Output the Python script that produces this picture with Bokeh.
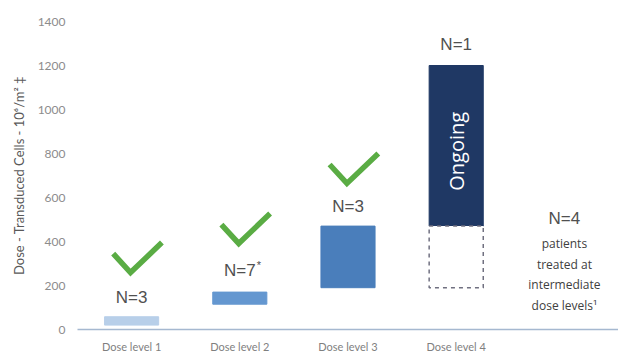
from bokeh.plotting import figure
from bokeh.models import Range1d, FixedTicker, ColumnDataSource
from bokeh.core.properties import value
from bokeh.embed import file_html
from bokeh.resources import INLINE
import math

# ---- data ----
categories = ["Dose level 1", "Dose level 2", "Dose level 3", "Dose level 4"]
bar_low = [20, 115, 190, 470]
bar_high = [58, 170, 470, 1200]
bar_colors = ["#b8cfe9", "#6497d0", "#4a7ebb", "#1f3864"]
pending_category = ["Dose level 4"]
pending_low = [190]
pending_high = [470]
n_labels = ["N=3", "N=7", "N=3", "N=1", "N=4"]
n_label_y = [145, 268, 560, 1295, 505]
check_categories = ["Dose level 1", "Dose level 2", "Dose level 3"]
check_base_y = [259, 391, 664]
ongoing_text = "Ongoing"
ongoing_y = 810
note_lines = ["patients", "treated at", "intermediate", "dose levels¹"]
note_y = [391, 295, 205, 109]
y_ticks = [0, 200, 400, 600, 800, 1000, 1200, 1400]
y_label = "Dose - Transduced Cells - 10⁶/m² ‡"

# positions (5th slot holds the N=4 note)
xpos = {c: i + 1 for i, c in enumerate(categories)}
note_x = len(categories) + 1

p = figure(width=618, height=355, x_range=Range1d(0.5, 5.5), y_range=Range1d(0, 1400),
           output_backend="svg", toolbar_location=None,
           min_border_left=77, min_border_right=0, min_border_top=21, min_border_bottom=26)
p.outline_line_color = None
p.xgrid.visible = False
p.ygrid.visible = False
p.background_fill_color = "white"
p.border_fill_color = "white"

# bars
src = ColumnDataSource(dict(x=[xpos[c] for c in categories], low=bar_low, high=bar_high, color=bar_colors))
p.vbar(x="x", bottom="low", top="high", width=0.5, color="color", source=src)
p.vbar(x=[xpos[c] for c in pending_category], bottom=pending_low, top=pending_high, width=0.5,
       fill_color="white", line_color="#707080", line_dash="4 4", line_width=1.5)

# check marks
xs, ys = [], []
for c, b in zip(check_categories, check_base_y):
    x0 = xpos[c] - 0.01
    xs.append([x0 - 0.16, x0, x0 + 0.29])
    ys.append([b + 86, b, b + 136])
p.multi_line(xs=xs, ys=ys, line_color="#5aac44", line_width=5.5, line_join="miter", line_cap="butt")

# N labels
label_x = [xpos[c] for c in categories] + [note_x]
p.text(x=label_x, y=n_label_y, text=n_labels, text_font=value("Liberation Sans"),
       text_font_size="17px", text_color="#505050", text_align="center", text_baseline="middle")
p.text(x=[label_x[1]], y=[n_label_y[1]], text=["*"], x_offset=19, y_offset=-6,
       text_font=value("Liberation Sans"), text_font_size="11px", text_color="#505050",
       text_align="center", text_baseline="middle")

# note lines
p.text(x=[note_x] * len(note_lines), y=note_y, text=note_lines, text_font=value("Open Sans"),
       text_font_size="12px", text_color="#404040", text_align="center", text_baseline="middle")

# ongoing text
p.text(x=[xpos["Dose level 4"]], y=[ongoing_y], text=[ongoing_text], angle=math.pi / 2,
       text_font=value("Open Sans"), text_font_size="20px", text_color="white",
       text_align="center", text_baseline="middle")

# axes
p.xaxis.ticker = FixedTicker(ticks=[xpos[c] for c in categories])
p.xaxis.major_label_overrides = {xpos[c]: c for c in categories}
p.xaxis.axis_line_color = "#a5b8d0"
p.xaxis.axis_line_width = 1.5
p.xaxis.major_tick_line_color = None
p.xaxis.minor_tick_line_color = None
p.xaxis.major_tick_out = 0
p.xaxis.major_tick_in = 0
p.xaxis.minor_tick_out = 0
p.xaxis.major_label_standoff = 10
p.xaxis.major_label_text_font = "Lato"
p.xaxis.major_label_text_font_size = "11px"
p.xaxis.major_label_text_color = "#7f7f7f"

p.yaxis.ticker = FixedTicker(ticks=y_ticks)
p.yaxis.axis_line_color = None
p.yaxis.major_tick_line_color = None
p.yaxis.minor_tick_line_color = None
p.yaxis.major_tick_out = 0
p.yaxis.major_tick_in = 0
p.yaxis.minor_tick_out = 0
p.yaxis.major_label_standoff = 12
p.yaxis.major_label_text_font = "Lato"
p.yaxis.major_label_text_font_size = "12px"
p.yaxis.major_label_text_color = "#8c8c8c"
p.yaxis.axis_label = y_label
p.yaxis.axis_label_text_font = "Lato"
p.yaxis.axis_label_text_font_style = "normal"
p.yaxis.axis_label_text_font_size = "13px"
p.yaxis.axis_label_text_color = "#595959"
p.yaxis.axis_label_standoff = 8

open("out.html", "w").write(file_html(p, INLINE))
